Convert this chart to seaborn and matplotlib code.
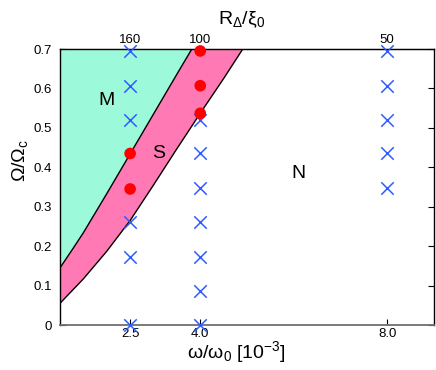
import numpy as np
import pandas as pd
import matplotlib
matplotlib.use("Agg")
import matplotlib.pyplot as plt
import seaborn as sns

# ---- data ----
upper_x = [1.0, 1.25, 1.5, 2.0, 2.5, 3.0, 3.5, 3.82]
upper_y = [0.145, 0.189, 0.234, 0.333, 0.434, 0.535, 0.636, 0.70]
lower_x = [1.0, 1.25, 1.5, 2.0, 2.5, 3.0, 3.5, 4.0, 4.5, 4.91]
lower_y = [0.055, 0.086, 0.117, 0.187, 0.265, 0.355, 0.447, 0.537, 0.625, 0.70]

red_x = [2.5, 2.5, 4.0, 4.0, 4.0]
red_y = [0.345, 0.435, 0.537, 0.607, 0.695]

cross_x = [2.5]*6 + [4.0]*7 + [8.0]*5
cross_y = [0.0, 0.173, 0.26, 0.52, 0.607, 0.695,
           0.0, 0.087, 0.173, 0.26, 0.347, 0.435, 0.52,
           0.347, 0.435, 0.52, 0.607, 0.695]

xticks = [2.5, 4.0, 8.0]
xticklabels = ["2.5", "4.0", "8.0"]
top_labels = ["160", "100", "50"]
yticks = [0, 0.1, 0.2, 0.3, 0.4, 0.5, 0.6, 0.7]
yticklabels = ["0", "0.1", "0.2", "0.3", "0.4", "0.5", "0.6", "0.7"]

sns.set_style("white")
plt.rcParams['font.family'] = ['Liberation Sans', 'DejaVu Sans']
plt.rcParams['mathtext.fontset'] = 'custom'
plt.rcParams['mathtext.rm'] = 'Liberation Sans'
plt.rcParams['mathtext.it'] = 'Liberation Sans'
for k in ['text.color', 'axes.labelcolor', 'xtick.color', 'ytick.color']:
    plt.rcParams[k] = 'black'

fig = plt.figure(figsize=(4.36, 3.70), dpi=100)
ax = fig.add_axes([60/436, 45/370, 374/436, 276/370])
xmin, xmax, ymin, ymax = 1.0, 9.0, 0.0, 0.7

teal = "#9CFADB"
pink = "#FF7AB4"

# M region polygon: left edge, top edge, along upper boundary
mx = [xmin] + [upper_x[-1]] + upper_x[::-1]
my = [ymax] + [ymax] + upper_y[::-1]
ax.fill(mx, my, color=teal, lw=0, zorder=1)
# S region: between upper and lower boundary
sx = upper_x + [lower_x[-1]] + lower_x[::-1]
sy = upper_y + [ymax] + lower_y[::-1]
ax.fill(sx, sy, color=pink, lw=0, zorder=1)

bd = pd.DataFrame({"x": upper_x, "y": upper_y})
sns.lineplot(data=bd, x="x", y="y", sort=False, color="black", lw=1.0, ax=ax, zorder=2)
bd2 = pd.DataFrame({"x": lower_x, "y": lower_y})
sns.lineplot(data=bd2, x="x", y="y", sort=False, color="black", lw=1.0, ax=ax, zorder=2)

cr = pd.DataFrame({"x": cross_x, "y": cross_y})
sns.scatterplot(data=cr, x="x", y="y", marker="x", s=80, color="#2F5BFF",
                linewidth=1.1, ax=ax, zorder=3, clip_on=False)
rd = pd.DataFrame({"x": red_x, "y": red_y})
sns.scatterplot(data=rd, x="x", y="y", marker="o", s=70, color="#FF0000",
                edgecolor="none", ax=ax, zorder=4, clip_on=False)

ax.set_xlim(xmin, xmax)
ax.set_ylim(ymin, ymax)
ax.set_xticks(xticks)
ax.set_xticklabels(xticklabels, fontsize=9.5)
ax.set_yticks(yticks)
ax.set_yticklabels(yticklabels, fontsize=9.5)
ax.set_xlabel("")
ax.set_ylabel("")
ax.tick_params(axis="both", direction="in", length=4, width=0.8, pad=2,
               right=True, left=True, bottom=True, top=False, colors="black")
ax.tick_params(axis="y", pad=6)
for s in ["top", "left", "right"]:
    ax.spines[s].set_color("black")
    ax.spines[s].set_linewidth(1.0)
    ax.spines[s].set_visible(True)
ax.spines["bottom"].set_color("#707070")
ax.spines["bottom"].set_linewidth(1.3)
ax.spines["bottom"].set_visible(True)

top = ax.secondary_xaxis("top")
top.set_xticks(xticks)
top.set_xticklabels(top_labels, fontsize=9.5)
top.tick_params(length=0, pad=2, colors="black")

ax.text(2.0, 0.57, "M", fontsize=14, ha="center", va="center")
ax.text(3.1, 0.435, "S", fontsize=14, ha="center", va="center")
ax.text(6.1, 0.385, "N", fontsize=14, ha="center", va="center")

fig.text(242/436, 1 - 20/370, r"R$_\Delta$/ξ$_0$", fontsize=14, ha="center", va="center")
fig.text(20/436, 1 - 160/370, r"Ω/Ω$_\mathrm{c}$", fontsize=14, ha="center", va="center", rotation=90)
fig.text(236/436, 1 - 352/370, r"ω/ω$_0$ [10$^{-3}$]", fontsize=14, ha="center", va="center")

fig.savefig("out.png", dpi=100)
